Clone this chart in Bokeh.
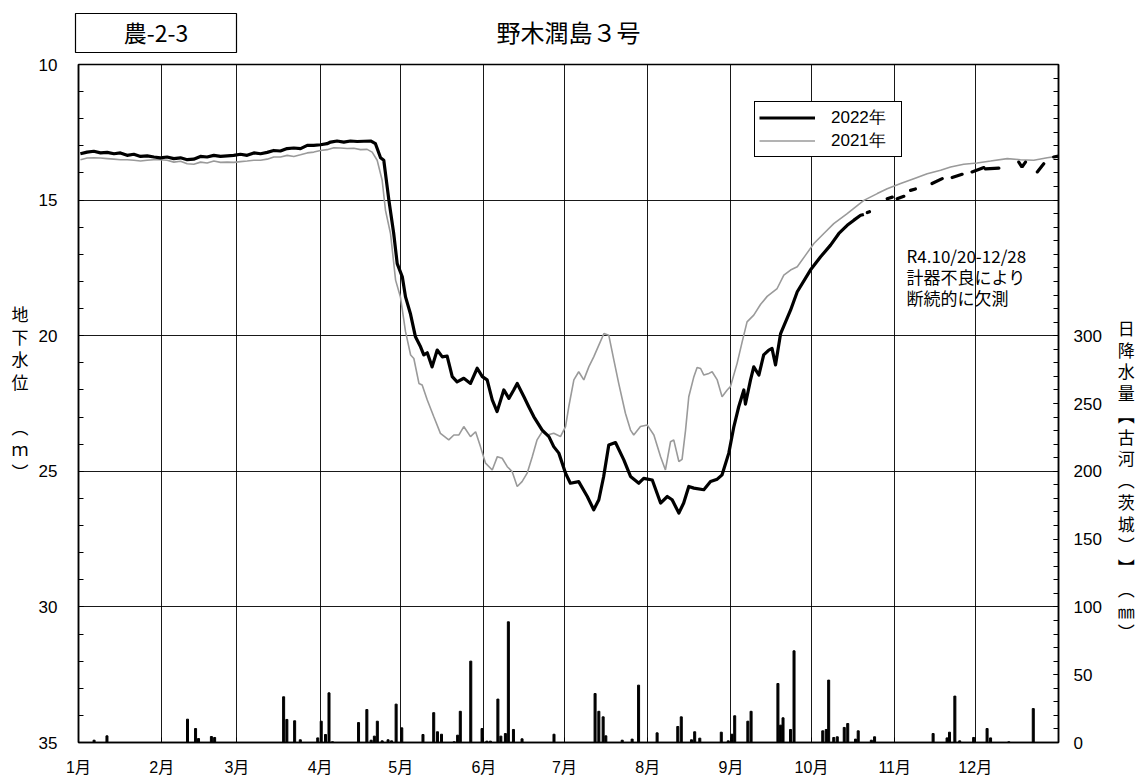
import math
from bokeh.plotting import figure
from bokeh.layouts import column
from bokeh.models import Range1d, LinearAxis, FixedTicker, Label, Legend, LegendItem, Plot
from bokeh.core.properties import value
from bokeh.embed import file_html
from bokeh.resources import INLINE

JP = "Noto Sans CJK JP"
NUM = "Liberation Sans"
MIX = "Liberation Sans, Noto Sans CJK JP"
NAN = float("nan")

# ---------------- data ----------------
month_labels = ["1月", "2月", "3月", "4月", "5月", "6月", "7月", "8月", "9月", "10月", "11月", "12月"]
month_start_days = [0, 31, 59, 90, 120, 151, 181, 212, 243, 273, 304, 334]
level_ticks = [10, 15, 20, 25, 30, 35]
rain_ticks = [0, 50, 100, 150, 200, 250, 300]

# 2022 groundwater level (m below ground), continuous part up to Oct 20
w22_day = [0.7, 3.2, 5.7, 8.2, 10.7, 13.2, 15.6, 18.1, 20.6, 23.1, 25.6, 28.1, 30.5, 33.0, 35.5, 38.0,
           40.5, 42.9, 45.4, 47.9, 50.4, 52.9, 55.4, 57.8, 60.3, 62.8, 65.3, 67.8, 70.3, 72.7, 75.2, 77.7,
           80.2, 82.7, 85.2, 87.6, 90.1, 92.6, 93.9, 96.3, 98.8, 101.3, 103.8, 106.3, 108.8, 110.6, 112.5,
           113.7, 115.6, 117.4, 118.7, 120.6, 121.8, 123.6, 125.5, 127.4, 128.6, 129.9, 131.7, 133.6, 135.5,
           137.3, 139.2, 141.0, 143.5, 146.0, 148.5, 150.4, 152.2, 154.1, 155.9, 158.4, 160.3, 162.1, 163.4,
           165.9, 167.7, 169.6, 172.7, 175.2, 177.0, 178.9, 181.4, 183.2, 186.3, 189.5, 191.9, 193.8, 195.6,
           197.5, 200.0, 203.1, 205.6, 208.7, 210.5, 213.7, 216.8, 219.3, 221.1, 223.6, 225.4, 227.3, 229.2,
           232.9, 235.4, 237.9, 239.7, 242.2, 244.1, 245.9, 247.8, 248.4, 250.3, 251.5, 253.4, 255.2, 257.1,
           258.3, 259.6, 261.5, 265.2, 267.7, 272.6, 276.4, 280.1, 283.2, 286.3, 288.8, 291.3, 292.5]
w22_lvl = [13.29, 13.23, 13.20, 13.26, 13.24, 13.29, 13.26, 13.35, 13.31, 13.39, 13.37, 13.41, 13.44, 13.41,
           13.47, 13.44, 13.51, 13.49, 13.39, 13.41, 13.35, 13.39, 13.37, 13.35, 13.31, 13.35, 13.26, 13.29,
           13.24, 13.17, 13.19, 13.10, 13.08, 13.10, 12.98, 12.98, 12.96, 12.92, 12.86, 12.82, 12.86, 12.82,
           12.84, 12.83, 12.82, 12.92, 13.44, 13.53, 15.00, 16.23, 17.34, 17.83, 18.57, 19.18, 20.04, 20.41,
           20.71, 20.63, 21.15, 20.53, 20.78, 20.75, 21.51, 21.70, 21.57, 21.76, 21.20, 21.51, 21.63, 22.37,
           22.80, 22.00, 22.31, 22.00, 21.76, 22.25, 22.62, 22.99, 23.48, 23.72, 24.09, 24.33, 25.07, 25.44,
           25.38, 25.93, 26.42, 26.05, 25.19, 24.03, 23.94, 24.58, 25.19, 25.44, 25.26, 25.32, 26.17, 25.93,
           26.05, 26.54, 26.17, 25.56, 25.62, 25.68, 25.38, 25.29, 25.13, 24.33, 23.35, 22.62, 22.00, 22.52,
           21.63, 21.15, 21.45, 20.71, 20.53, 20.47, 21.08, 19.92, 19.06, 18.38, 17.58, 17.09, 16.66, 16.23,
           15.93, 15.74, 15.56, 15.53]

# 2022 intermittent record Oct 20 - Dec 28 (NaN = missing)
w22_late_day = [293.8, 294.6, NAN, 301.2, 303.1, NAN, 304.9, 307.4, NAN, 309.9, 311.7, NAN, 317.9, 321.7, NAN,
                325.4, 329.1, NAN, 332.8, 337.2, NAN, 337.8, 342.8, NAN, 350.2, 351.4, 352.7, NAN,
                357.1, 359.5, NAN, 363.2, 365.0]
w22_late_lvl = [15.46, 15.43, NAN, 14.95, 14.89, NAN, 14.95, 14.86, NAN, 14.64, 14.59, NAN, 14.39, 14.21, NAN,
                14.17, 14.05, NAN, 13.96, 13.80, NAN, 13.85, 13.82, NAN, 13.60, 13.78, 13.60, NAN,
                13.96, 13.66, NAN, 13.41, 13.38]

# 2021 groundwater level
w21_day = [0.74, 3.23, 5.71, 8.19, 10.68, 13.16, 15.64, 18.13, 20.61, 23.09, 25.58, 28.06, 30.54, 33.02,
           35.51, 37.99, 40.47, 42.96, 45.44, 47.92, 50.41, 52.89, 55.37, 57.85, 60.34, 62.82, 65.30, 67.79,
           70.27, 72.75, 75.24, 77.72, 80.2, 82.68, 85.17, 87.65, 90.13, 92.62, 95.1, 97.58, 100.07, 102.55,
           105.03, 107.51, 109.37, 111.24, 113.1, 114.34,
           116.2, 118.1, 119.9, 121.8, 123.7, 124.9, 126.8, 128.0, 129.9, 132.3, 134.8, 137.9, 139.8, 141.7,
           143.5, 146.0, 147.9, 149.7, 151.6, 154.1, 156.0, 157.8, 159.7, 161.5, 163.4, 165.2, 167.1, 169.0,
           170.8, 172.7, 174.6, 177.0, 179.5, 181.4, 182.6, 184.5, 186.3, 188.2, 190.1, 191.9, 193.8, 195.7,
           197.5, 199.4, 201.2, 203.7, 205.6, 206.8, 209.3, 211.8,
           214.3, 216.8, 218.6, 220.5, 221.7, 223.6, 224.8, 226.1, 227.3, 229.2, 230.4, 231.7, 232.9, 234.8,
           236.0, 237.9, 239.7, 241.6, 242.8, 245.3, 247.2, 249.0,
           251.5, 254.0, 256.5, 260.2, 262.7, 265.2, 267.7, 270.8, 273.9, 277.6, 281.3, 286.3, 292.5, 297.5,
           301.2, 306.2, 311.1, 316.1, 321.1, 324.8, 329.7, 334.7, 339.7, 345.9, 350.8, 355.8, 360.8, 365.0]
w21_lvl = [13.51, 13.45, 13.44, 13.45, 13.47, 13.49, 13.51, 13.51, 13.53, 13.56, 13.53, 13.51, 13.51, 13.53,
           13.60, 13.57, 13.66, 13.68, 13.60, 13.63, 13.56, 13.61, 13.60, 13.61, 13.58, 13.56, 13.53, 13.53,
           13.49, 13.41, 13.41, 13.35, 13.39, 13.33, 13.26, 13.23, 13.17, 13.14, 13.07, 13.08, 13.10, 13.09,
           13.14, 13.13, 13.23, 13.53, 14.27, 15.38,
           16.23, 17.95, 18.57, 19.85, 20.71, 20.84, 21.76, 21.82, 22.37, 22.98, 23.60, 23.84, 23.66, 23.66,
           23.35, 23.72, 23.54, 24.09, 24.70, 24.95, 24.46, 24.52, 24.83, 25.01, 25.56, 25.38, 25.07, 24.46,
           23.84, 23.54, 23.66, 23.60, 23.72, 23.35, 22.62, 21.63, 21.33, 21.63, 21.14, 20.78, 20.35, 19.92,
           19.98, 20.90, 21.76, 22.86, 23.48, 23.66, 23.35, 23.29,
           23.66, 24.46, 24.95, 23.91, 23.84, 24.64, 24.56, 23.48, 22.25, 21.51, 21.17, 21.21, 21.45, 21.39,
           21.33, 21.63, 22.25, 22.00, 21.88, 21.02, 20.22, 19.49,
           19.24, 18.85, 18.55, 18.26, 17.77, 17.58, 17.46, 17.03, 16.60, 16.23, 15.87, 15.50, 15.01, 14.76,
           14.58, 14.39, 14.21, 14.03, 13.90, 13.78, 13.68, 13.63, 13.56, 13.47, 13.51, 13.53, 13.44, 13.38]

# 2022 daily precipitation at Koga (mm)
rain_day = [5.8, 10.6, 40.6, 43.6, 44.7, 49.5, 50.7, 76.4, 77.6, 80.5, 82.6, 89.1, 90.4, 92.0, 93.3, 94.6,
            104.3, 107.4, 109.0, 110.2, 111.3, 113.1, 115.3, 116.6, 118.3, 120.4, 128.3, 132.3, 133.7, 135.2,
            139.9, 141.2, 142.2, 146.1, 150.3, 152.1, 153.4, 156.2, 157.3, 159.0, 160.1, 162.0, 165.2, 177.1,
            192.4, 193.8, 195.4, 196.4, 202.5, 206.2, 208.6, 215.5, 223.2, 224.5, 228.3, 229.5, 231.4, 239.4,
            242.0, 243.4, 244.4, 249.3, 250.5, 260.5, 261.5, 262.4, 265.2, 266.5, 277.2, 278.5, 279.4, 281.3,
            282.6, 285.2, 286.5, 289.4, 290.4, 295.3, 296.5, 318.3, 323.5, 324.4, 326.4, 328.2, 333.4, 338.4,
            339.7, 346.5, 355.6]
rain_mm = [1.7, 4.9, 17.2, 10.3, 2.9, 4.4, 3.7, 33.7, 17.0, 16.0, 2.0, 3.4, 15.7, 5.9, 36.6, 0.5,
           14.7, 24.3, 1.7, 4.7, 15.7, 1.2, 2.0, 1.2, 28.3, 10.8, 5.9, 22.0, 7.9, 6.1,
           0.5, 5.4, 23.0, 60.0, 10.3, 1.0, 1.0, 32.0, 4.7, 6.6, 89.0, 9.6, 2.7, 6.1,
           36.1, 23.0, 18.9, 4.9, 1.7, 2.5, 42.3, 7.1, 11.8, 18.9, 2.0, 7.9, 3.2, 7.6,
           1.2, 6.1, 19.7, 15.7, 23.0, 43.5, 12.8, 18.2, 9.6, 67.6, 8.6, 9.6, 46.0, 3.7,
           4.2, 11.1, 14.0, 2.5, 8.6, 1.7, 4.2, 6.6, 3.4, 7.6, 34.2, 1.2, 3.7, 10.3,
           3.4, 0.5, 25.0]

title_text = "野木潤島３号"
station_text = "農-2-3"
note_text = "R4.10/20-12/28\n計器不良により\n断続的に欠測"
left_title = "地\n下\n水\n位\n\n︵\nｍ\n︶\n　"
right_title = "　\n　\n　\n　\n　\n　\n　\n日\n降\n水\n量\n︻\n古\n河\n︵\n茨\n城\n︶\n︼\n︵\n㎜\n︶"

# ---------------- layout ----------------
W, H = 1137, 778
TOP_H = 54
FRAME_L, FRAME_R, FRAME_T, FRAME_B = 78, 1058, 64, 743

def dx(px):
    return (px - FRAME_L) * 365.0 / (FRAME_R - FRAME_L)
def dy(py):
    return 10 + (py - FRAME_T) * 25.0 / (FRAME_B - FRAME_T)

HAS_FA = "frame_align" in Plot.properties()
top_xr = Range1d(0, W) if HAS_FA else Range1d(FRAME_L, FRAME_R)
box_left = 75 if HAS_FA else FRAME_L + 0.7

# header strip (title + station box), coordinates = page pixels
top = figure(width=W, height=TOP_H, x_range=top_xr, y_range=Range1d(TOP_H, 0),
             output_backend="svg", toolbar_location=None, x_axis_type=None, y_axis_type=None,
             min_border=0, outline_line_color=None, background_fill_color="white",
             border_fill_color="white")
if HAS_FA:
    top.frame_align = False
top.grid.visible = False
top.quad(left=[box_left], right=[236], top=[13], bottom=[52], fill_color=None,
         line_color="black", line_width=1.2)
top.text(x=[155.5], y=[31], text=[station_text], text_align="center", text_baseline="middle",
         text_font=value(JP), text_font_size="23px", text_color="black")
top.text(x=[568], y=[31], text=[title_text], text_align="center", text_baseline="middle",
         text_font=value(JP), text_font_size="24px", text_color="black")

p = figure(width=W, height=H - TOP_H, x_range=Range1d(0, 365), y_range=Range1d(35, 10),
           output_backend="svg", toolbar_location=None,
           min_border_left=FRAME_L, min_border_right=W - FRAME_R,
           min_border_top=FRAME_T - TOP_H, min_border_bottom=H - FRAME_B,
           background_fill_color="white", border_fill_color="white")
p.extra_y_ranges = {"rain": Range1d(0, 500)}
p.outline_line_color = "black"
p.outline_line_width = 1.5
p.outline_line_alpha = 1

# grids
p.xgrid.ticker = FixedTicker(ticks=month_start_days)
p.ygrid.ticker = FixedTicker(ticks=level_ticks[1:-1])
for g in (p.xgrid, p.ygrid):
    g.grid_line_color = "black"
    g.grid_line_width = 1
    g.grid_line_alpha = 0.9

# left axis
la = p.yaxis[0]
la.ticker = FixedTicker(ticks=level_ticks, minor_ticks=list(range(10, 36)))
la.major_tick_in = 5
la.major_tick_out = 0
la.minor_tick_in = 5
la.minor_tick_out = 0
la.axis_line_width = 1.5
la.major_label_standoff = 21
la.major_label_text_font = NUM
la.major_label_text_font_size = "17px"
la.major_label_text_color = "black"
la.axis_label = left_title
la.axis_label_orientation = "horizontal"
la.axis_label_standoff = 7
la.axis_label_text_font = JP
la.axis_label_text_font_size = "17px"
la.axis_label_text_font_style = "normal"
la.axis_label_text_line_height = 0.9
la.axis_label_text_color = "black"

# bottom axis
ba = p.xaxis[0]
ba.ticker = FixedTicker(ticks=month_start_days)
ba.major_label_overrides = {d: lab for d, lab in zip(month_start_days, month_labels)}
ba.major_tick_in = 5
ba.major_tick_out = 0
ba.axis_line_width = 1.5
ba.major_label_standoff = 16
ba.major_label_text_font = MIX
ba.major_label_text_font_size = "16px"
ba.major_label_text_color = "black"

# right axis (precipitation)
ra = LinearAxis(y_range_name="rain", ticker=FixedTicker(ticks=rain_ticks, minor_ticks=list(range(0, 501, 10))))
ra.major_tick_in = 5
ra.major_tick_out = 0
ra.minor_tick_in = 5
ra.minor_tick_out = 0
ra.axis_line_width = 1.5
ra.major_label_standoff = 15
ra.major_label_text_font = NUM
ra.major_label_text_font_size = "17px"
ra.major_label_text_color = "black"
ra.axis_label = right_title
ra.axis_label_orientation = "horizontal"
ra.axis_label_standoff = 13
ra.axis_label_text_font = JP
ra.axis_label_text_font_size = "17px"
ra.axis_label_text_font_style = "normal"
ra.axis_label_text_line_height = 0.87
ra.axis_label_text_color = "black"
p.add_layout(ra, "right")

# precipitation bars
p.vbar(x=rain_day, top=rain_mm, bottom=0, width=0.75, color="black", y_range_name="rain")

# water level lines
r21 = p.line(w21_day, w21_lvl, line_color="#9a9a9a", line_width=1.6)
r22 = p.line(w22_day, w22_lvl, line_color="black", line_width=3.2, line_join="round")
p.line(w22_late_day, w22_late_lvl, line_color="black", line_width=3.2, line_cap="round")

legend = Legend(items=[LegendItem(label="2022年", renderers=[r22]),
                       LegendItem(label="2021年", renderers=[r21])],
                location=(676, 585), orientation="vertical",
                border_line_color="black", border_line_width=1.5, border_line_alpha=1,
                background_fill_alpha=1, padding=4, spacing=0, margin=0,
                glyph_width=56, glyph_height=21, label_height=21, label_width=66, label_standoff=16,
                label_text_font=NUM, label_text_font_size="17px",
                label_text_color="black")
p.add_layout(legend)

# note
p.add_layout(Label(x=dx(906), y=dy(243), text=note_text,
                   text_align="left", text_baseline="top", text_font=JP, text_font_size="17px",
                   text_line_height=0.83, text_color="black"))

open("out.html", "w").write(file_html(column(top, p, spacing=0), INLINE))
